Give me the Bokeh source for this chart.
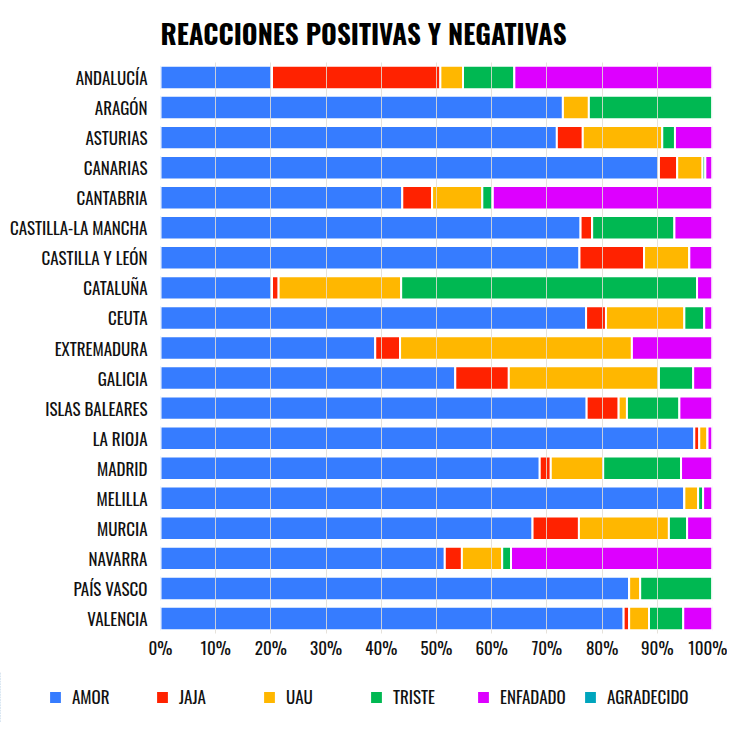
from bokeh.plotting import figure
from bokeh.models import Range1d, FactorRange, FixedTicker, Legend, LegendItem, ColumnDataSource
from bokeh.embed import file_html
from bokeh.resources import INLINE

regions = ["ANDALUCÍA", "ARAGÓN", "ASTURIAS", "CANARIAS", "CANTABRIA",
           "CASTILLA-LA MANCHA", "CASTILLA Y LEÓN", "CATALUÑA", "CEUTA",
           "EXTREMADURA", "GALICIA", "ISLAS BALEARES", "LA RIOJA", "MADRID",
           "MELILLA", "MURCIA", "NAVARRA", "PAÍS VASCO", "VALENCIA"]
amor =       [20.2, 72.9, 71.8, 90.3, 43.8, 76.1, 75.9, 20.2, 77.1, 38.9, 53.4, 77.2, 96.7, 68.7, 94.9, 67.4, 51.5, 84.9, 83.9]
jaja =       [30.5, 0.0, 4.7, 3.3, 5.4, 2.1, 11.7, 1.2, 3.6, 4.5, 9.7, 5.8, 0.9, 2.0, 0.0, 8.4, 3.1, 0.0, 1.0]
uau =        [4.1, 4.7, 14.4, 4.6, 9.1, 0.0, 8.2, 22.2, 14.2, 42.0, 27.2, 1.5, 1.5, 9.5, 2.5, 16.3, 7.3, 2.0, 3.6]
triste =     [9.3, 22.4, 2.3, 0.5, 1.9, 14.9, 0.0, 53.6, 3.6, 0.0, 6.2, 9.5, 0.0, 14.1, 0.9, 3.3, 1.6, 13.1, 6.2]
enfadado =   [35.9, 0.0, 6.8, 1.3, 39.8, 6.9, 4.2, 2.8, 1.5, 14.6, 3.5, 6.0, 0.9, 5.7, 1.7, 4.6, 36.5, 0.0, 5.3]
agradecido = [0.0] * 19
series_names = ["AMOR", "JAJA", "UAU", "TRISTE", "ENFADADO", "AGRADECIDO"]
tick_values = [0, 10, 20, 30, 40, 50, 60, 70, 80, 90, 100]
colors = ["#367CFF", "#FF2200", "#FFB700", "#00B852", "#DD00FF", "#00A5BD"]

FONT = "Oswald"

data = {"region": regions}
for name, vals in zip(series_names, [amor, jaja, uau, triste, enfadado, agradecido]):
    data[name] = vals
source = ColumnDataSource(data)

p = figure(width=727, height=672, output_backend="svg", toolbar_location=None,
           y_range=FactorRange(factors=list(reversed(regions))),
           x_range=Range1d(0, 100),
           min_border_left=160, min_border_right=15, min_border_top=52,
           min_border_bottom=39)

p.hbar_stack(series_names, y="region", height=0.78, color=colors, source=source,
             line_color="white", line_width=2)

p.title.text = "REACCIONES POSITIVAS Y NEGATIVAS"
p.title.text_font = FONT
p.title.text_font_size = "27px"
p.title.text_font_style = "bold"
p.title.align = "left"
p.title.text_color = "#000000"
p.title.standoff = 20

p.outline_line_color = None
p.ygrid.grid_line_color = None
p.xgrid.grid_line_color = "#e2ddd5"
p.xgrid.grid_line_alpha = 0.85
p.xgrid.level = "overlay"

p.xaxis.ticker = FixedTicker(ticks=tick_values)
p.xaxis.major_label_overrides = {t: f"{t}%" for t in tick_values}
for ax in (p.xaxis, p.yaxis):
    ax.axis_line_color = None
    ax.major_tick_line_color = None
    ax.minor_tick_line_color = None
    ax.major_label_text_font = FONT
    ax.major_label_text_font_size = "17px"
    ax.major_label_text_color = "#111111"
p.xaxis.major_label_standoff = -5
p.yaxis.major_label_standoff = 7

# separate legend figure (its stacked bars lie outside its x range, only the legend shows)
lf = figure(width=727, height=50, output_backend="svg", toolbar_location=None,
            x_range=Range1d(200, 300), y_range=FactorRange(factors=list(reversed(regions))),
            min_border_left=0, min_border_right=0, min_border_top=0, min_border_bottom=0)
lf.axis.visible = False
lf.grid.visible = False
lf.outline_line_color = None
lrs = lf.hbar_stack(series_names, y="region", height=0.78, color=colors, source=source,
                    line_color="white", line_width=2)
items = [LegendItem(label=n, renderers=[r]) for n, r in zip(series_names, lrs)]
legend = Legend(items=items, orientation="horizontal", location=(47, 13),
                padding=0, spacing=2, glyph_width=16, glyph_height=16,
                label_width=80, label_standoff=9,
                label_text_font=FONT, label_text_font_size="17px",
                label_text_color="#111111",
                border_line_color=None, background_fill_alpha=0)
lf.add_layout(legend)

open("out.html", "w").write(file_html([p, lf], INLINE))
